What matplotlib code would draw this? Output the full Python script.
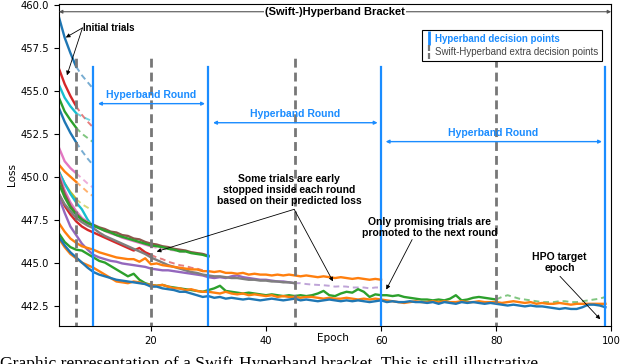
import numpy as np
import matplotlib.pyplot as plt
from matplotlib.lines import Line2D
from matplotlib.path import Path

# loss curves, one value per epoch starting at epoch 4
first_epoch = 4

# initial trials stopped at epoch 7 (values after 7 are the predicted loss)
blue_a = [459.3, 458.1, 457.2, 456.4, 455.9, 455.5, 455.1]
red_a = [456.3, 455.4, 454.7, 454.1, 453.6, 453.2, 452.85]
cyan_a = [455.35, 454.6, 454.1, 453.7, 453.5, 453.35, 453.2]
green_a = [454.6, 453.8, 453.3, 452.85, 452.5, 452.25, 452.0]
blue_b = [454.0, 453.2, 452.55, 452.0, 451.5, 451.05, 450.65]
pink_a = [451.7, 450.9, 450.5, 450.2, 449.9, 449.6, 449.35]
orange_a = [450.7, 450.3, 450.0, 449.7, 449.4, 449.1, 448.85]
olive_a = [450.3, 449.6, 449.1, 448.7, 448.4, 448.2, 448.0]

# ran the whole first round
cyan_b = [450.3, 449.6, 449.0, 448.5, 448.1, 447.5, 447.05]

# second round
green_b = [449.6, 448.8, 448.2, 447.8, 447.5, 447.3, 447.15, 447.0, 446.85, 446.75,
           446.6, 446.5, 446.4, 446.3, 446.2, 446.1, 446.0, 445.95, 445.9, 445.8,
           445.75, 445.65, 445.65, 445.55, 445.5, 445.45, 445.35]
brown_b = [450.0, 449.0, 448.3, 447.85, 447.5, 447.3, 447.2, 447.05, 446.95, 446.8,
           446.75, 446.6, 446.55, 446.4, 446.35, 446.2, 446.1, 446.05, 445.95, 445.9,
           445.8, 445.75, 445.7, 445.6, 445.55, 445.5, 445.4]
pink_b = [450.2, 449.2, 448.5, 448.0, 447.6, 447.35, 447.15, 447.0, 446.85, 446.7,
          446.6, 446.45, 446.35, 446.25, 446.15, 446.05, 445.95, 445.85, 445.8, 445.75,
          445.7, 445.65, 445.6, 445.6, 445.55, 445.5, 445.5]
red_b = [449.0, 448.3, 447.8, 447.4, 447.1, 446.9, 446.75, 446.6, 446.45, 446.3,
         446.15, 446.0, 445.85, 445.7, 445.85, 445.6, 445.45, 445.3, 445.2, 445.05,
         444.95, 444.85, 444.8, 444.7, 444.65, 444.55, 444.5]

# third round
grey_b = [449.0, 448.4, 448.0, 447.6, 447.35, 447.15, 447.0, 446.75, 446.55, 446.4,
          446.25, 446.1, 445.95, 445.8, 445.65, 445.5, 445.3, 445.15, 445.0, 444.85,
          444.75, 444.65, 444.55, 444.45, 444.4, 444.3, 444.25, 444.2, 444.2, 444.15,
          444.1, 444.1, 444.05, 444.0, 444.0, 443.95, 443.95, 443.9, 443.9, 443.85,
          443.85, 443.8]
purple_b = [448.8, 447.9, 447.1, 446.6, 446.1, 445.75, 445.45, 445.3, 445.2, 445.1,
            445.05, 444.95, 444.9, 444.85, 444.8, 444.75, 444.65, 444.6, 444.55, 444.55,
            444.5, 444.45, 444.4, 444.35, 444.3, 444.25, 444.15, 444.1, 444.15, 444.1,
            444.2, 444.25, 444.15, 444.1, 444.05, 444.0, 444.0, 443.95, 443.9, 443.9,
            443.85, 443.8, 443.8, 443.75, 443.72, 443.7, 443.68, 443.65, 443.6, 443.62,
            443.6, 443.55, 443.55, 443.55, 443.5, 443.55, 443.55]
orange_b = [447.3, 446.8, 446.4, 446.15, 445.95, 445.85, 445.75, 445.6, 445.5, 445.4,
            445.3, 445.25, 445.2, 445.2, 445.05, 445.25, 444.9, 444.95, 444.85, 444.8,
            444.75, 444.7, 444.65, 444.6, 444.6, 444.5, 444.5, 444.45, 444.5, 444.4,
            444.4, 444.35, 444.4, 444.3, 444.35, 444.3, 444.3, 444.25, 444.3, 444.25,
            444.3, 444.25, 444.2, 444.25, 444.2, 444.15, 444.2, 444.15, 444.1, 444.15,
            444.1, 444.05, 444.1, 444.05, 444.0, 444.05, 444.0]

# last round
green_c = [446.7, 446.2, 445.9, 445.75, 445.7, 445.5, 445.3, 445.1, 445.0, 444.8,
           444.6, 444.4, 444.2, 444.35, 444.0, 443.8, 443.7, 443.65, 443.7, 443.6,
           443.55, 443.5, 443.45, 443.4, 443.35, 443.3, 443.4, 443.5, 443.65, 443.35,
           443.3, 443.25, 443.2, 443.25, 443.2, 443.15, 443.1, 443.15, 443.1, 443.05,
           443.1, 443.05, 443.1, 443.05, 443.1, 443.2, 443.35, 443.1, 443.05, 443.2,
           443.3, 443.25, 443.45, 443.3, 443.0, 443.15, 443.1, 443.1, 443.05, 443.1,
           443.0, 442.95, 442.9, 442.85, 442.85, 442.8, 442.85, 442.8, 442.9, 443.1,
           442.8, 442.85, 442.95, 443.0, 442.95, 442.9, 442.85, 443.0, 443.1, 443.0,
           442.9, 442.85, 442.8, 442.75, 442.7, 442.7, 442.7, 442.75, 442.75, 442.7,
           442.7, 442.75, 442.8, 442.85, 442.9, 443.0]
orange_c = [446.4, 445.9, 445.5, 445.25, 445.0, 444.85, 444.7, 444.5, 444.3, 444.1,
            443.9, 443.85, 443.8, 443.9, 443.85, 443.75, 443.7, 443.65, 443.7, 443.6,
            443.5, 443.5, 443.4, 443.45, 443.35, 443.3, 443.3, 443.25, 443.2, 443.3,
            443.2, 443.15, 443.2, 443.1, 443.15, 443.1, 443.05, 443.1, 443.0, 443.05,
            443.0, 443.0, 442.95, 443.0, 443.0, 442.95, 442.9, 442.95, 442.9, 442.9,
            442.95, 442.9, 442.85, 442.9, 442.85, 442.9, 442.85, 442.8, 442.75, 442.7,
            442.65, 442.7, 442.75, 442.7, 442.7, 442.75, 442.7, 442.75, 442.7, 442.7,
            442.75, 442.7, 442.7, 442.75, 442.7, 442.7, 442.7, 442.65, 442.7, 442.75,
            442.7, 442.65, 442.7, 442.6, 442.65, 442.6, 442.6, 442.65, 442.6, 442.55,
            442.6, 442.6, 442.6, 442.6, 442.6, 442.6]
blue_c = [446.5, 446.0, 445.6, 445.3, 445.0, 444.7, 444.45, 444.3, 444.2, 444.1,
          444.0, 443.95, 443.9, 443.85, 443.8, 443.75, 443.6, 443.6, 443.5, 443.45,
          443.4, 443.3, 443.3, 443.2, 443.1, 443.0, 443.05, 442.95, 443.0, 442.9,
          442.95, 442.9, 442.85, 442.9, 442.85, 442.8, 442.85, 442.9, 442.85, 442.8,
          442.85, 442.9, 442.8, 442.85, 442.8, 442.75, 442.8, 442.85, 442.8, 442.75,
          442.8, 442.75, 442.8, 442.75, 442.7, 442.75, 442.8, 442.7, 442.75, 442.7,
          442.7, 442.75, 442.7, 442.7, 442.65, 442.7, 442.6, 442.7, 442.65, 442.6,
          442.7, 442.65, 442.7, 442.65, 442.6, 442.65, 442.6, 442.55, 442.5, 442.55,
          442.5, 442.45, 442.5, 442.45, 442.45, 442.4, 442.35, 442.3, 442.35, 442.3,
          442.3, 442.4, 442.55, 442.55, 442.5, 442.4]

# (values, last trained epoch, colour)
trials = [
    (blue_a, 7, 'tab:blue'), (red_a, 7, 'tab:red'), (cyan_a, 7, 'tab:cyan'),
    (green_a, 7, 'tab:green'), (blue_b, 7, 'tab:blue'), (pink_a, 7, 'tab:pink'),
    (orange_a, 7, 'tab:orange'), (olive_a, 7, 'tab:olive'), (cyan_b, 10, 'tab:cyan'),
    (pink_b, 20, 'tab:pink'), (red_b, 20, 'tab:red'), (brown_b, 30, 'tab:brown'),
    (green_b, 30, 'tab:green'), (purple_b, 45, 'tab:purple'), (grey_b, 45, 'tab:gray'),
    (orange_b, 60, 'tab:orange'), (green_c, 80, 'tab:green'),
    (orange_c, 99, 'tab:orange'), (blue_c, 99, 'tab:blue'),
]

hyperband_points = [10, 30, 60, 99]
swift_points = [7, 20, 45, 80]
rounds = [(10, 30), (30, 60), (60, 99)]

hb_blue = '#1a8cff'
sans = 'Liberation Sans'

fig = plt.figure(figsize=(6.4, 3.64), dpi=100)
ax = fig.add_axes([0.092, 0.104, 0.863, 0.885])

for vals, stop, col in trials:
    ep = np.arange(first_epoch, first_epoch + len(vals))
    v = np.array(vals)
    m = ep <= stop
    ax.plot(ep[m], v[m], color=col, lw=1.7, zorder=2)
    if ep[-1] > stop:
        m2 = ep >= stop
        ax.plot(ep[m2], v[m2], color=col, lw=1.4, alpha=0.6, dashes=(3, 2), zorder=2)

for x in hyperband_points:
    ax.plot([x, x], [441.0, 456.4], color=hb_blue, lw=1.6, zorder=3)
for x in swift_points:
    ax.plot([x, x], [441.0, 457.1], color='#777777', lw=2, dashes=(3.2, 1.8), zorder=3)

# bracket arrow
ax.annotate('', xy=(4, 459.6), xytext=(100, 459.6),
            arrowprops=dict(arrowstyle='<|-|>', color='#555555', lw=0.8,
                            mutation_scale=5, shrinkA=0, shrinkB=0))
ax.text(52, 459.6, '(Swift-)Hyperband Bracket', ha='center', va='center', fontsize=8,
        fontweight='bold', family=sans, bbox=dict(fc='white', ec='none', pad=1))

# hyperband rounds
round_y = [454.25, 453.14, 452.04]
for (a, b), y in zip(rounds, round_y):
    ax.annotate('', xy=(a + 0.8, y), xytext=(b - 0.6, y),
                arrowprops=dict(arrowstyle='<|-|>', color=hb_blue, lw=1,
                                mutation_scale=5, shrinkA=0, shrinkB=0))
    ax.text((a + b) / 2, y + 0.2, 'Hyperband Round', ha='center', va='bottom',
            fontsize=7.5, fontweight='bold', color=hb_blue, family=sans)

arrow = dict(arrowstyle='-|>', color='black', lw=0.6, mutation_scale=6,
             shrinkA=0, shrinkB=0)
ax.text(8.2, 458.66, 'Initial trials', ha='left', va='center', fontsize=7,
        fontweight='bold', family=sans)
ax.annotate('', xy=(5.2, 458.1), xytext=(8.1, 458.66), arrowprops=arrow)
ax.annotate('', xy=(5.4, 455.9), xytext=(8.1, 458.66), arrowprops=arrow)

ax.text(44.0, 449.24, 'Some trials are early\nstopped inside each round\nbased on their predicted loss',
        ha='center', va='center', fontsize=7.5, fontweight='bold', family=sans,
        linespacing=1.15)
ax.annotate('', xy=(21.0, 445.64), xytext=(44.9, 448.1), arrowprops=arrow)
ax.annotate('', xy=(51.65, 443.9), xytext=(44.9, 448.1), arrowprops=arrow)

ax.text(68.5, 447.06, 'Only promising trials are\npromoted to the next round',
        ha='center', va='center', fontsize=7.5, fontweight='bold', family=sans,
        linespacing=1.15)
ax.annotate('', xy=(60.9, 443.43), xytext=(65.4, 446.34), arrowprops=arrow)

ax.text(91.0, 445.0, 'HPO target\nepoch', ha='center', va='center', fontsize=7.5,
        fontweight='bold', family=sans, linespacing=1.15)
ax.annotate('', xy=(98.1, 441.7), xytext=(91.1, 444.2), arrowprops=arrow)

# legend
dash_marker = Path([(0, -1), (0, -0.2), (0, 0.2), (0, 1)],
                   [Path.MOVETO, Path.LINETO, Path.MOVETO, Path.LINETO])
handles = [Line2D([], [], ls='None', marker='|', ms=10, mew=2, color=hb_blue),
           Line2D([], [], ls='None', marker=dash_marker, ms=10, mew=1.6, color='#777777')]
leg = ax.legend(handles, ['Hyperband decision points', 'Swift-Hyperband extra decision points'],
                loc='upper right', bbox_to_anchor=(0.993, 0.935),
                prop={'family': sans, 'size': 7}, handlelength=0.6, handletextpad=0.4,
                fancybox=False, framealpha=1, edgecolor='black', borderpad=0.4,
                labelspacing=0.35)
leg.get_frame().set_linewidth(0.8)
leg.get_texts()[0].set_color(hb_blue)
leg.get_texts()[0].set_fontweight('bold')
leg.get_texts()[1].set_color('#444444')

ax.set_xlim(4, 100)
ax.set_ylim(441.3, 460.05)
ax.set_xticks([20, 40, 60, 80, 100])
ax.set_yticks(np.arange(442.5, 460.1, 2.5))
ax.yaxis.set_major_formatter(plt.FormatStrFormatter('%.1f'))
ax.tick_params(labelsize=7.2)
ax.set_xlabel('Epoch', fontsize=7.5)
ax.xaxis.set_label_coords(0.496, -0.02)
ax.set_ylabel('Loss', fontsize=7.5)
ax.yaxis.set_label_coords(-0.076, 0.47)

# caption of the source page, cut by the bottom edge
fig.text(0.0, 0.022, 'Graphic representation of a Swift-Hyperband bracket. This is still illustrative',
         ha='left', va='top', fontsize=12.6, family='Liberation Serif')

fig.savefig('out.png', dpi=100)
